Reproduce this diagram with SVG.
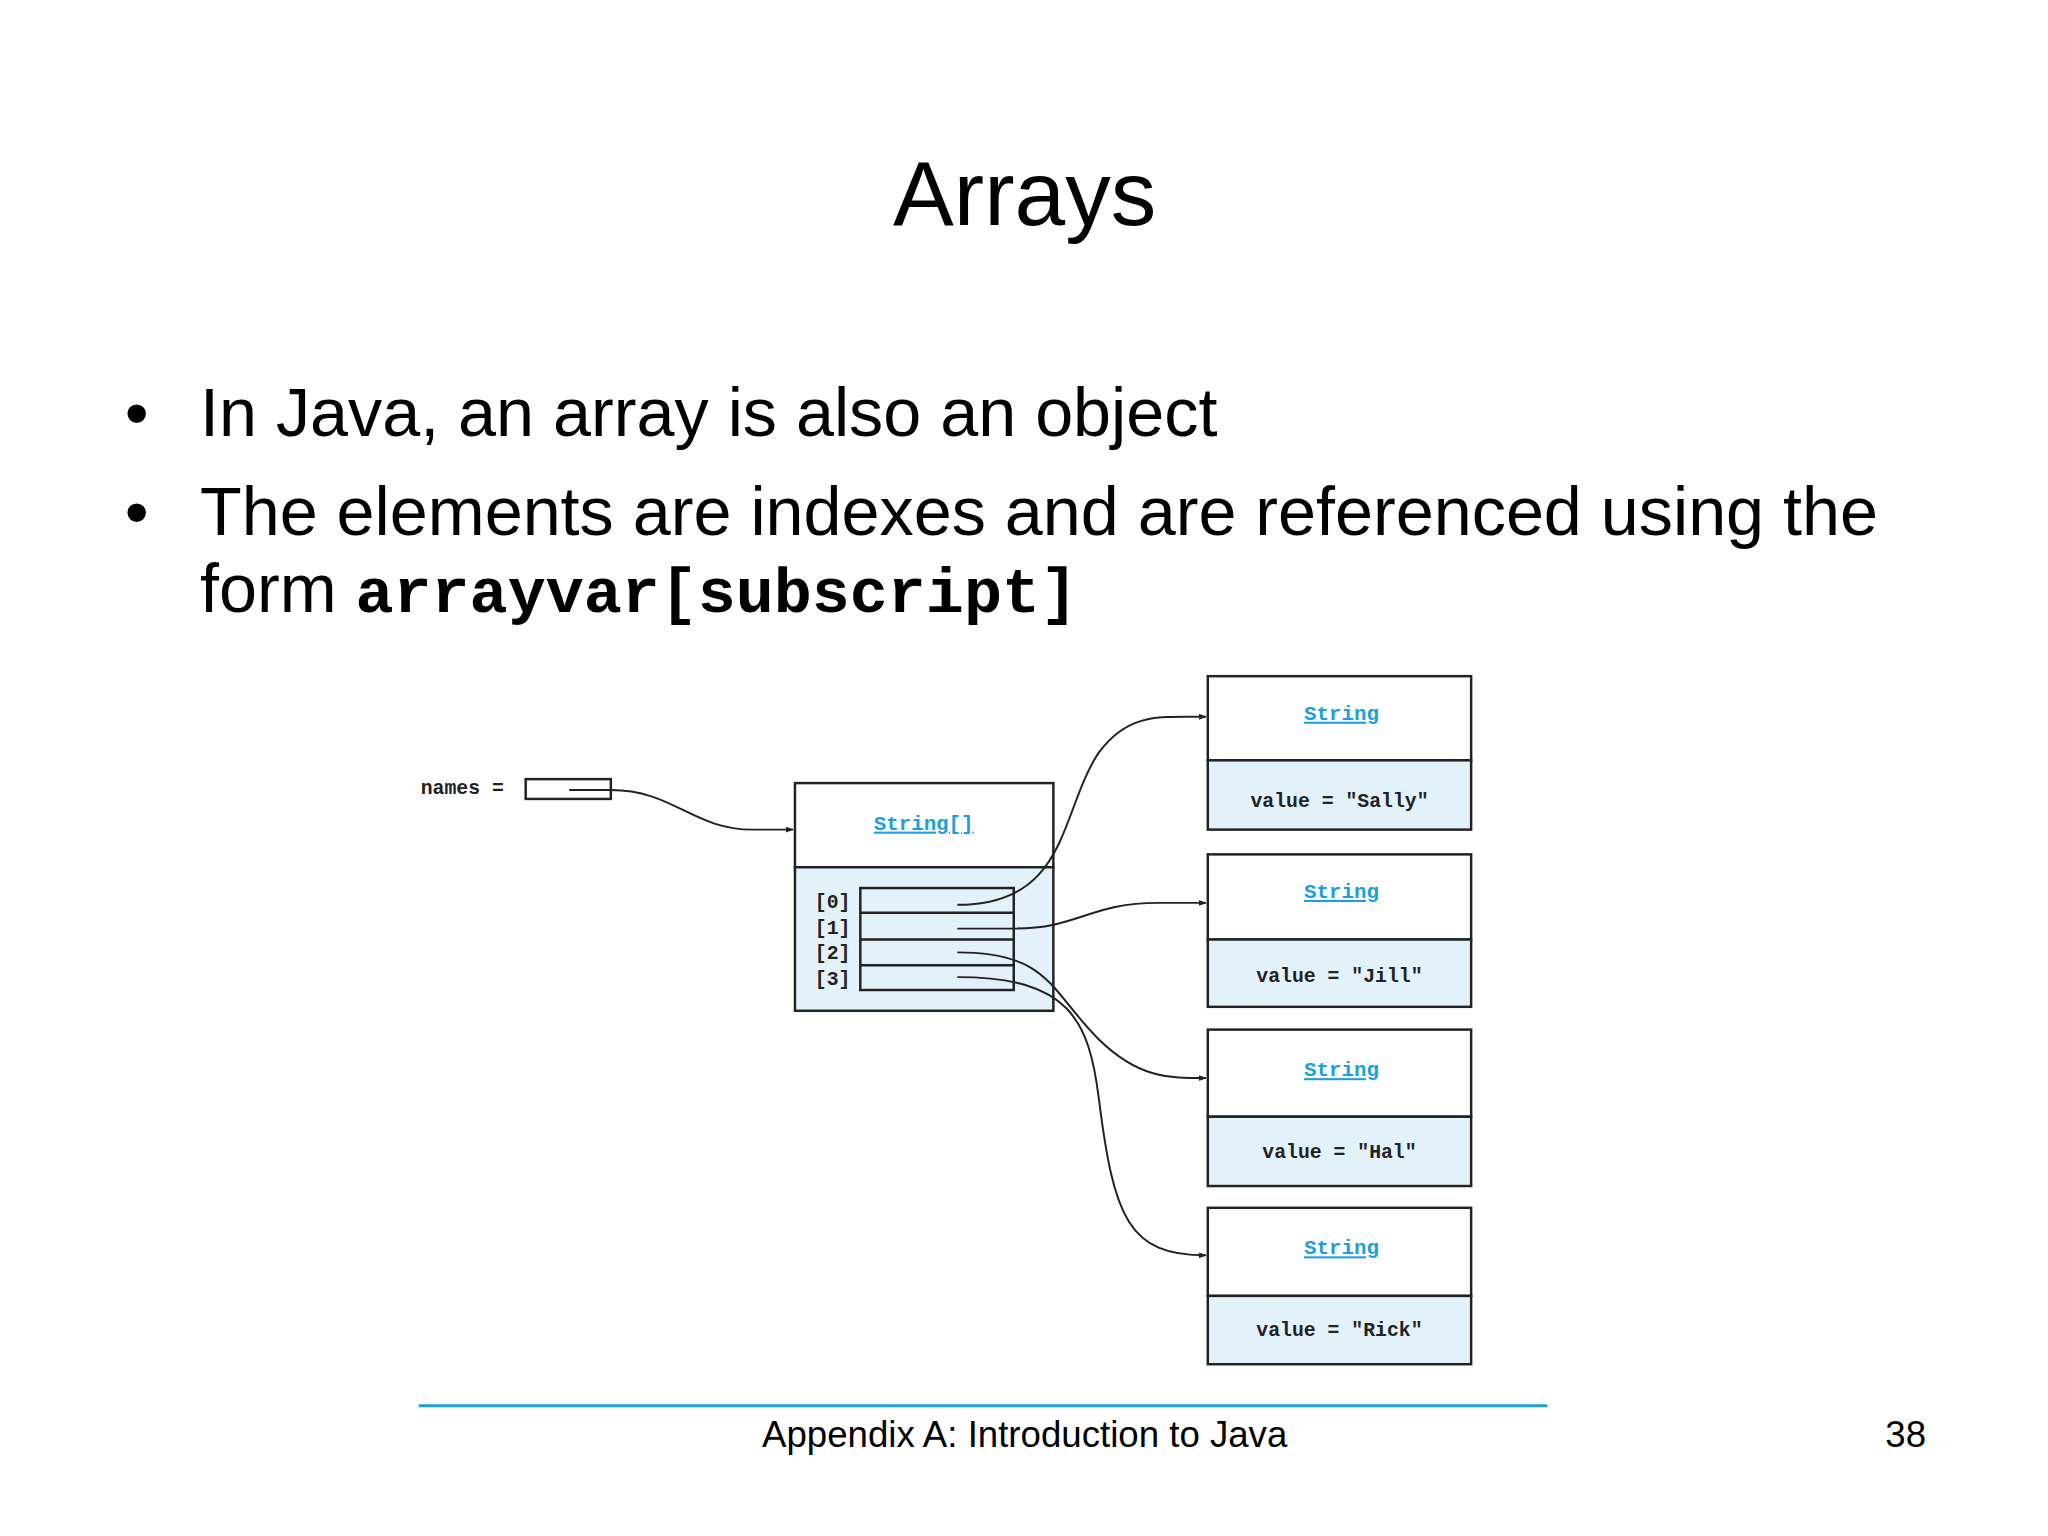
<svg xmlns="http://www.w3.org/2000/svg" width="2048" height="1536" viewBox="0 0 2048 1536">
<style>
.t{font-family:"Liberation Sans",Arial,sans-serif;fill:#000}
.m{font-family:"Liberation Mono","DejaVu Sans Mono",monospace;font-size:20px;fill:#222;font-weight:bold}
.c{font-family:"Liberation Mono","DejaVu Sans Mono",monospace;font-size:21px;fill:#1a9fe0;font-weight:bold;text-decoration:underline}
.b{fill:#fff;stroke:#222;stroke-width:2.5}
.v{fill:#e3f1fb;stroke:#222;stroke-width:2.5}
.cn{fill:none;stroke:#222;stroke-width:2}
</style>
<defs><marker id="a" markerWidth="8" markerHeight="8" refX="7" refY="4" orient="auto" markerUnits="userSpaceOnUse"><path d="M0,1 L8,4 L0,7 Z" fill="#222"/></marker></defs>
<rect width="2048" height="1536" fill="#fff"/>
<g transform="scale(0.99)">
<text class="t" x="1035" y="227" font-size="92" text-anchor="middle">Arrays</text>
<text class="t" x="126" y="440" font-size="69">•</text>
<text class="t" x="202" y="440" font-size="69">In Java, an array is also an object</text>
<text class="t" x="126" y="540" font-size="69">•</text>
<text class="t" x="202" y="540" font-size="69" textLength="1695">The elements are indexes and are referenced using the</text>
<text class="t" x="202" y="618" font-size="69">form <tspan font-family="'Liberation Mono',monospace" font-weight="bold" font-size="64">arrayvar[subscript]</tspan></text>

<g id="names"><text class="m" x="425" y="802">names =</text><rect class="b" x="531" y="787" width="86" height="20"/></g>
<g id="array">
<rect class="b" x="803" y="791" width="261" height="85"/>
<rect class="v" x="803" y="876" width="261" height="145"/>
<text class="c" x="933" y="838" text-anchor="middle">String[]</text>
<rect fill="none" stroke="#222" stroke-width="2.5" x="869" y="897" width="155" height="103"/>
<path d="M869,922H1024M869,949H1024M869,975H1024" stroke="#222" stroke-width="2.5"/>
<text class="m" x="823" y="917">[0]</text><text class="m" x="823" y="943">[1]</text><text class="m" x="823" y="969">[2]</text><text class="m" x="823" y="995">[3]</text>
</g>
<g id="s0"><rect class="b" x="1220" y="683" width="266" height="85"/><rect class="v" x="1220" y="768" width="266" height="70"/><text class="c" x="1355" y="727" text-anchor="middle">String</text><text class="m" x="1353" y="815" text-anchor="middle">value = "Sally"</text></g>
<g id="s1"><rect class="b" x="1220" y="863" width="266" height="86"/><rect class="v" x="1220" y="949" width="266" height="68"/><text class="c" x="1355" y="907" text-anchor="middle">String</text><text class="m" x="1353" y="992" text-anchor="middle">value = "Jill"</text></g>
<g id="s2"><rect class="b" x="1220" y="1040" width="266" height="88"/><rect class="v" x="1220" y="1128" width="266" height="70"/><text class="c" x="1355" y="1087" text-anchor="middle">String</text><text class="m" x="1353" y="1170" text-anchor="middle">value = "Hal"</text></g>
<g id="s3"><rect class="b" x="1220" y="1220" width="266" height="89"/><rect class="v" x="1220" y="1309" width="266" height="69"/><text class="c" x="1355" y="1267" text-anchor="middle">String</text><text class="m" x="1353" y="1350" text-anchor="middle">value = "Rick"</text></g>

<g id="connectors">
<path class="cn" marker-end="url(#a)" d="M575,798H617C680,798 700,838 760,838H801"/>
<path class="cn" marker-end="url(#a)" d="M967,914C1080,914 1070,820 1110,760C1140,720 1170,724 1218,724"/>
<path class="cn" marker-end="url(#a)" d="M967,938H1024C1090,938 1100,912 1170,912H1218"/>
<path class="cn" marker-end="url(#a)" d="M967,962C1060,962 1060,1000 1110,1050C1150,1089 1180,1089 1218,1089"/>
<path class="cn" marker-end="url(#a)" d="M967,987C1080,987 1100,1030 1110,1110C1125,1230 1140,1268 1218,1268"/>
</g>
<line x1="423" y1="1420" x2="1563" y2="1420" stroke="#1ba1e2" stroke-width="3"/>
<text class="t" x="1035" y="1462" font-size="37" text-anchor="middle">Appendix A: Introduction to Java</text>
<text class="t" x="1925" y="1462" font-size="37" text-anchor="middle">38</text>
</g>
</svg>
